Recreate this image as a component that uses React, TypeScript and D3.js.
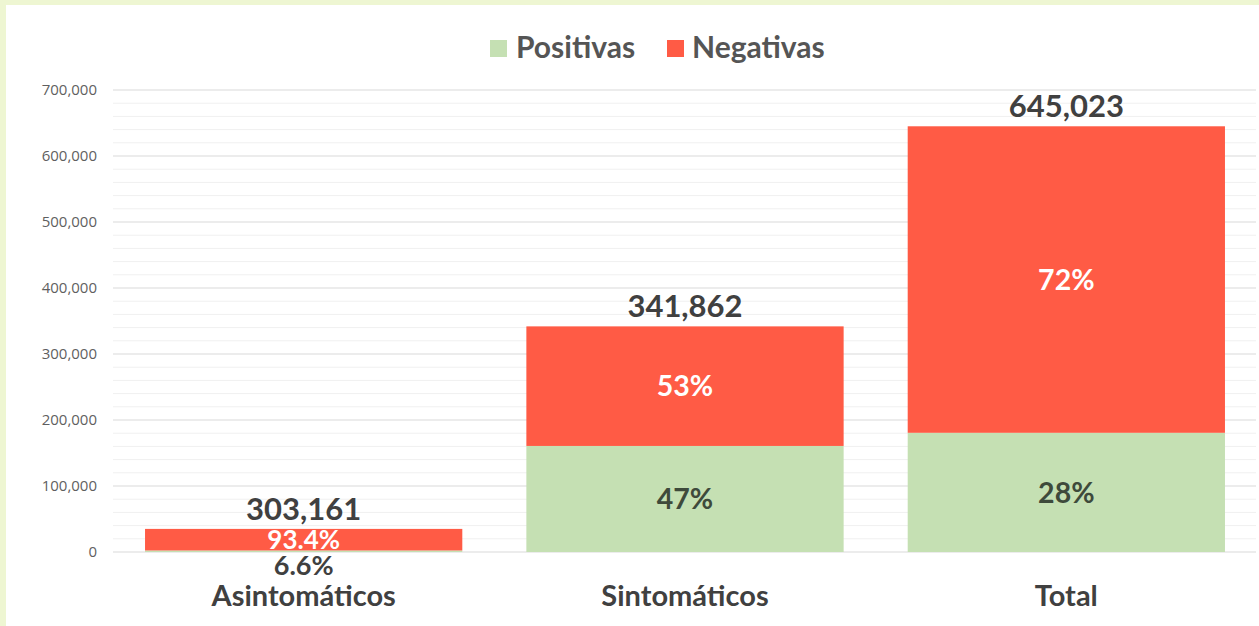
import React from "react";
import * as d3 from "d3";

const categories = ["Asintomáticos", "Sintomáticos", "Total"];
const positivas = [2300, 160675, 180606];
const negativas = [32700, 181187, 464417];
const totalLabels = ["303,161", "341,862", "645,023"];
const posPctLabels = ["6.6%", "47%", "28%"];
const negPctLabels = ["93.4%", "53%", "72%"];
const yTicks = [0, 100000, 200000, 300000, 400000, 500000, 600000, 700000];
const seriesNames = ["Positivas", "Negativas"];

const W = 1259;
const H = 626;
const GREEN = "#c5e0b3";
const RED = "#ff5b45";
const DARK = "#404040";
const FONT = "Lato, 'Open Sans', sans-serif";

export default function App() {
  const x = d3
    .scaleBand()
    .domain(categories)
    .range([113, 1257])
    .paddingInner(0.168)
    .paddingOuter(0.084);
  const y = d3.scaleLinear().domain([0, 700000]).range([552, 90]);
  const minor = d3.range(0, 700001, 20000).filter((v) => v % 100000 !== 0);
  const fmt = d3.format(",");

  return (
    <svg
      width={W}
      height={H}
      style={{ position: "absolute", left: 0, top: 0 }}
      fontFamily={FONT}
    >
      <rect x={0} y={0} width={W} height={H} fill="#eef6d2" />
      <rect x={6} y={5} width={W - 6} height={H - 5} fill="#ffffff" />

      {/* gridlines */}
      {minor.map((v) => (
        <line key={"m" + v} x1={113} x2={1256} y1={y(v)} y2={y(v)} stroke="#f0f0f0" strokeWidth={1} />
      ))}
      {yTicks.map((v) => (
        <line key={"g" + v} x1={113} x2={1256} y1={y(v)} y2={y(v)} stroke="#d9d9d9" strokeWidth={1.2} />
      ))}
      {yTicks.map((v) => (
        <text
          key={"t" + v}
          x={97}
          y={y(v)}
          dy="0.35em"
          textAnchor="end"
          fontSize={15}
          fontFamily="'Open Sans', sans-serif"
          fill="#5f5f5f"
        >
          {fmt(v)}
        </text>
      ))}

      {/* bars */}
      {categories.map((c, i) => {
        const bx = x(c)!;
        const bw = x.bandwidth();
        const p = positivas[i];
        const n = negativas[i];
        const cx = bx + bw / 2;
        const small = y(0) - y(p) < 20;
        const pctSize = small ? 27 : 28.5;
        return (
          <g key={c}>
            <rect x={bx} y={y(p)} width={bw} height={y(0) - y(p)} fill={GREEN} />
            <rect x={bx} y={y(p + n)} width={bw} height={y(p) - y(p + n)} fill={RED} />
            <text
              x={cx}
              y={(y(p) + y(p + n)) / 2}
              dy="0.36em"
              textAnchor="middle"
              fontSize={small ? 26 : pctSize}
              fontWeight="bold"
              fill="#ffffff"
            >
              {negPctLabels[i]}
            </text>
            <text
              x={cx}
              y={small ? y(0) + 13 : (y(0) + y(p)) / 2}
              dy="0.36em"
              textAnchor="middle"
              fontSize={pctSize}
              fontWeight="bold"
              fill={small ? DARK : "#3e4a3b"}
            >
              {posPctLabels[i]}
            </text>
            <text
              x={cx}
              y={y(p + n) - 9}
              textAnchor="middle"
              fontSize={31}
              fontWeight="bold"
              fill={DARK}
            >
              {totalLabels[i]}
            </text>
            <text
              x={cx}
              y={606}
              textAnchor="middle"
              fontSize={29}
              fontWeight="bold"
              fill={DARK}
            >
              {c}
            </text>
          </g>
        );
      })}

      {/* legend */}
      <g>
        <rect x={490} y={40} width={17} height={17} fill={GREEN} />
        <text x={516} y={58} fontSize={30} fontWeight="bold" fill="#555555">
          {seriesNames[0]}
        </text>
        <rect x={667} y={40} width={17} height={17} fill={RED} />
        <text x={692} y={58} fontSize={30} fontWeight="bold" fill="#555555">
          {seriesNames[1]}
        </text>
      </g>
    </svg>
  );
}
